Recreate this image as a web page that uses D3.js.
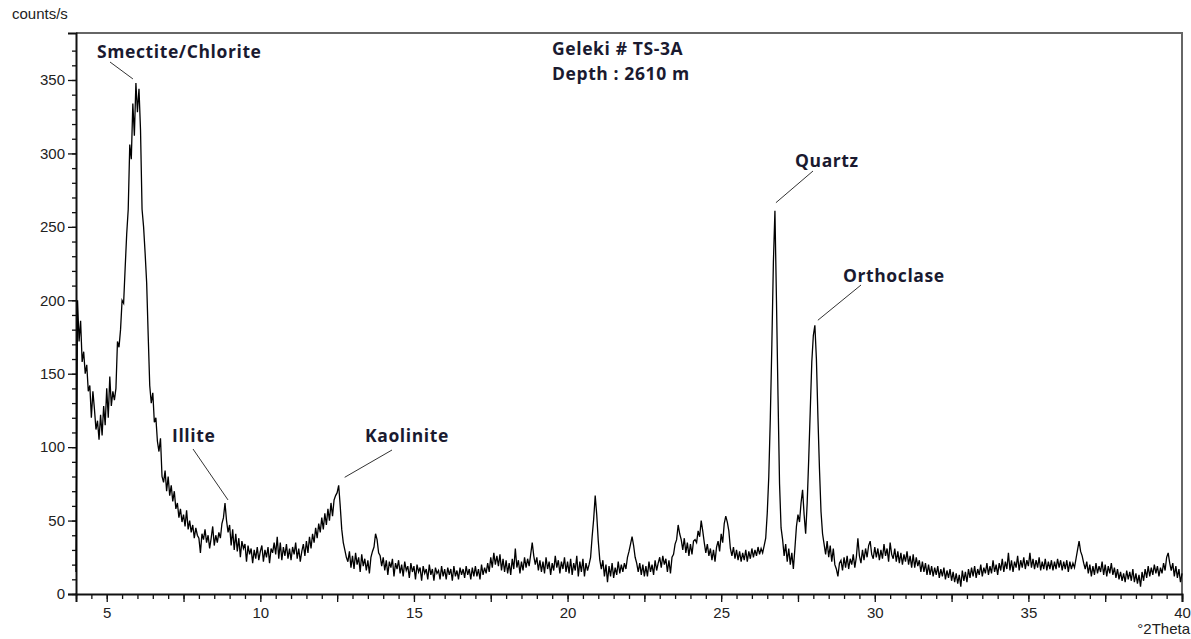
<!DOCTYPE html>
<html>
<head>
<meta charset="utf-8">
<script src="https://cdn.jsdelivr.net/npm/d3@7"></script>
<style>
  body { margin: 0; background: #fff; }
  svg { display: block; }
</style>
</head>
<body>
<svg id="chart" width="1191" height="639"></svg>
<script>
// XRD scan, Geleki # TS-3A, 2610 m: intensity (counts/s) every 0.05 °2Theta
const stepDeg = 0.05;
const segmentStart = [4, 10, 16, 22, 28, 34];

const counts04to10 = [
  15,200,172,186,158,165,150,156,138,142,120,138,126,112,118,105,122,108,128,115,
  140,120,148,128,138,132,140,172,168,180,200,198,222,245,262,306,296,334,312,348,
  328,344,316,262,250,232,212,176,142,130,137,117,120,104,97,106,80,76,84,70,
  80,67,74,63,70,58,62,52,58,49,54,46,57,44,50,42,47,38,45,40,
  38,28,41,37,44,35,40,31,38,46,33,40,35,42,38,48,52,62,50,42,
  47,33,44,30,41,29,38,25,36,31,34,22,33,27,31,21,30,24,32,23
];
const counts10to16 = [
  29,33,22,30,25,32,21,31,28,35,27,39,24,35,23,32,26,34,24,31,
  23,32,27,35,24,31,22,29,34,26,36,28,39,31,41,35,45,38,48,42,
  52,44,55,47,58,50,62,53,64,67,69,74,60,44,35,30,25,22,29,18,
  26,17,28,20,25,15,27,19,24,16,23,14,25,29,32,41,37,28,26,19,
  25,16,23,13,22,18,24,12,21,17,23,14,20,12,22,16,19,11,21,15,
  19,10,20,15,18,9,19,14,17,10,20,13,17,9,18,14,16,10,19,12
];
const counts16to22 = [
  17,10,18,13,17,9,19,12,16,10,18,13,17,11,19,13,17,10,18,12,
  19,12,17,10,20,13,18,14,21,15,25,18,28,20,26,19,27,16,24,15,
  23,14,21,13,24,17,31,18,23,14,22,16,25,18,24,19,27,35,26,20,
  25,16,23,15,22,14,25,17,22,13,21,16,26,18,23,14,22,17,25,15,
  22,14,24,13,21,16,26,12,22,15,24,12,21,16,20,25,39,51,67,54,
  36,23,17,23,12,20,8,19,12,21,11,18,13,22,14,20,15,21,17,25
];
const counts22to28 = [
  29,34,39,33,25,21,15,21,13,20,12,19,12,22,15,20,13,23,16,21,
  25,18,26,20,24,15,23,14,25,27,34,37,47,41,37,30,38,28,35,26,
  34,27,36,37,35,43,39,50,43,35,28,34,26,31,23,30,22,32,36,29,
  41,35,48,53,49,43,31,26,32,24,30,23,29,22,28,23,30,22,29,24,
  31,25,30,26,32,27,31,28,33,38,55,80,120,170,226,261,200,135,75,45,
  37,26,34,22,31,20,28,17,31,46,54,49,62,71,54,41,62,92,125,158
];
const counts28to34 = [
  176,183,160,120,85,56,41,34,27,36,25,33,22,31,20,17,12,21,23,16,
  25,18,26,17,24,20,27,18,25,38,26,21,30,23,31,25,33,36,27,24,
  32,25,31,23,30,24,34,26,31,22,35,27,24,31,22,29,21,28,20,27,
  22,29,20,26,18,27,18,25,19,23,15,22,15,21,13,20,13,19,12,18,
  13,19,11,17,12,18,10,16,11,17,9,15,8,14,7,13,5,16,9,15,
  8,17,11,18,12,19,11,17,13,20,12,18,14,21,13,19,14,23,15,20
];
const counts34to40 = [
  13,21,16,24,15,22,17,28,16,23,15,22,18,26,16,23,18,25,17,23,
  19,28,18,24,17,23,18,25,16,22,17,24,16,22,17,23,16,22,17,24,
  18,23,16,22,17,23,15,22,17,21,18,24,30,36,29,26,21,17,22,14,
  20,12,19,13,21,14,19,15,22,13,20,12,19,14,21,13,18,11,17,10,
  15,9,14,8,16,10,15,9,17,8,14,7,13,5,15,9,17,11,19,12,
  18,13,20,14,19,12,18,14,21,16,25,28,21,16,21,12,19,11,17,8,
  14
];

const xTickLabels = [5, 10, 15, 20, 25, 30, 35, 40];
const yTickLabels = [0, 50, 100, 150, 200, 250, 300, 350];

// Phase identifications and the peak (°2Theta) each one marks
const peakNames  = ["Smectite/Chlorite", "Illite", "Kaolinite", "Quartz", "Orthoclase"];
const peakAngles = [5.95, 8.85, 12.55, 26.75, 28.05];

const sampleInfo = ["Geleki # TS-3A", "Depth : 2610 m"];

// ---- assemble the scan ----
const segments = [counts04to10, counts10to16, counts16to22, counts22to28, counts28to34, counts34to40];
const scan = [];
segments.forEach((arr, k) => {
  arr.forEach((c, i) => {
    scan.push({ t: Math.round((segmentStart[k] + i * stepDeg) * 100) / 100, c });
  });
});
const countAt = t => scan.find(p => Math.abs(p.t - t) < 1e-6).c;

// ---- layout ----
const L = 76, R = 1182, T = 33, B = 594;
const svg = d3.select("#chart");
const x = d3.scaleLinear().domain([4, 40]).range([L, R]);
const y = d3.scaleLinear().domain([0, 382]).range([B, T]);

const tickFont = "'Liberation Sans', Arial, sans-serif";
const labelFont = "'Open Sans', Lato, sans-serif";

// frame: top and right edges
svg.append("path")
  .attr("d", `M${L},${T}H${R}V${B}`)
  .attr("fill", "none").attr("stroke", "#666").attr("stroke-width", 2);

// x axis: minor ticks every 0.5, longer every 2.5, labels every 5
const xMinor = d3.range(4, 40.001, 0.5);
const xMid = d3.range(5, 40.001, 2.5);
svg.append("g").attr("transform", `translate(0,${B})`)
  .call(d3.axisBottom(x).tickValues(xMinor).tickSize(5).tickFormat(""))
  .call(g => g.select(".domain").remove())
  .call(g => g.selectAll("line").attr("stroke", "#111").attr("stroke-width", 1.3));
const xAx = svg.append("g").attr("transform", `translate(0,${B})`)
  .call(d3.axisBottom(x).tickValues(xMid).tickSize(8).tickPadding(5)
    .tickFormat(d => xTickLabels.includes(d) ? d : ""));
xAx.select(".domain").attr("stroke", "#111").attr("stroke-width", 2);
xAx.selectAll("line").attr("stroke", "#111").attr("stroke-width", 1.3);
xAx.selectAll("text").attr("font-family", tickFont).attr("font-size", 15).attr("fill", "#222");

// y axis: minor ticks every 10, labelled every 50
const yMinor = d3.range(0, 380, 10);
svg.append("g").attr("transform", `translate(${L},0)`)
  .call(d3.axisLeft(y).tickValues(yMinor).tickSize(4).tickFormat(""))
  .call(g => g.select(".domain").remove())
  .call(g => g.selectAll("line").attr("stroke", "#111").attr("stroke-width", 1.3));
const yAx = svg.append("g").attr("transform", `translate(${L},0)`)
  .call(d3.axisLeft(y).tickValues(yTickLabels).tickSize(8).tickPadding(3));
yAx.select(".domain").attr("stroke", "#111").attr("stroke-width", 2);
yAx.selectAll("line").attr("stroke", "#111").attr("stroke-width", 1.3);
yAx.selectAll("text").attr("font-family", tickFont).attr("font-size", 15).attr("fill", "#222");

// axis titles
svg.append("text").attr("x", 12).attr("y", 19)
  .attr("font-family", tickFont).attr("font-size", 15).attr("fill", "#222")
  .text("counts/s");
svg.append("text").attr("x", 1190).attr("y", 634).attr("text-anchor", "end")
  .attr("font-family", tickFont).attr("font-size", 15).attr("fill", "#222")
  .text("°2Theta");

// diffraction trace
svg.append("path")
  .datum(scan)
  .attr("fill", "none")
  .attr("stroke", "#000")
  .attr("stroke-width", 1.3)
  .attr("stroke-linejoin", "miter")
  .attr("d", d3.line().x(d => x(d.t)).y(d => y(d.c)));

// peak labels with leader lines
const labelLayout = [
  { text: [97, 58],  from: [110, 62],  off: [-3, -4] },
  { text: [172, 442], from: [193, 449], off: [3, -3] },
  { text: [365, 442], from: [392, 450], off: [6, -8] },
  { text: [795, 167], from: [813, 171], off: [1, -8] },
  { text: [843, 282], from: [861, 285], off: [3, -5] }
];
const labelStyle = t => t
  .attr("font-family", labelFont).attr("font-weight", 700)
  .attr("font-size", 17.5).attr("letter-spacing", 0.6).attr("fill", "#1a1a30");

peakNames.forEach((name, i) => {
  const lay = labelLayout[i];
  const px = x(peakAngles[i]) + lay.off[0];
  const py = y(countAt(peakAngles[i])) + lay.off[1];
  svg.append("line")
    .attr("x1", lay.from[0]).attr("y1", lay.from[1])
    .attr("x2", px).attr("y2", py)
    .attr("stroke", "#333").attr("stroke-width", 1);
  svg.append("text")
    .attr("x", lay.text[0]).attr("y", lay.text[1])
    .call(labelStyle)
    .text(name);
});

// sample heading
sampleInfo.forEach((line, i) => {
  svg.append("text")
    .attr("x", 552).attr("y", 55 + i * 25)
    .call(labelStyle)
    .text(line);
});
</script>
</body>
</html>
